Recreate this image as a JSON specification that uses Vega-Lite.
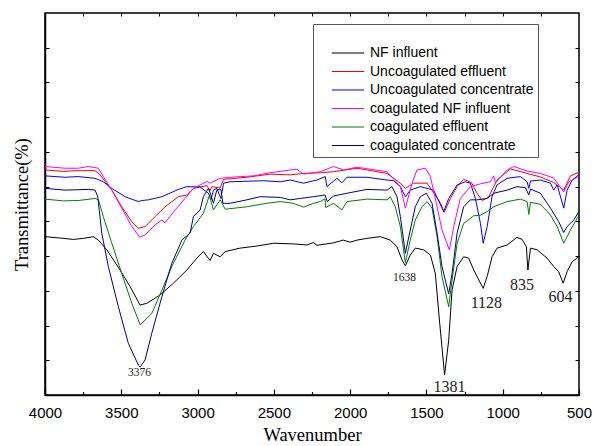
{
"$schema": "https://vega.github.io/schema/vega-lite/v6.json",
"width": 534, "height": 382, "autosize": "none",
"padding": {"left": 45, "top": 13, "right": 14, "bottom": 51},
"background": "white",
"config": {
 "view": {"stroke": "black", "strokeWidth": 1.5},
 "axis": {"domainColor": "black", "tickColor": "black", "labelColor": "black", "titleColor": "black", "grid": false, "domainWidth": 1.5,
  "labelFont": "Liberation Sans", "labelFontSize": 15, "titleFont": "Liberation Serif", "titleFontSize": 18.5, "titleFontWeight": "normal"},
 "legend": {"labelFont": "Liberation Sans", "labelFontSize": 14, "labelColor": "black"}
},
"datasets": {
 "spectra": [
{"s":"NF influent","w":4000,"t":45.6},{"s":"NF influent","w":3900,"t":45.2},{"s":"NF influent","w":3814,"t":44.8},{"s":"NF influent","w":3749,"t":45.1},{"s":"NF influent","w":3683,"t":45.6},{"s":"NF influent","w":3650,"t":44.6},{"s":"NF influent","w":3595,"t":41.8},{"s":"NF influent","w":3508,"t":36.0},{"s":"NF influent","w":3442,"t":31.2},{"s":"NF influent","w":3377,"t":25.9},{"s":"NF influent","w":3333,"t":26.4},{"s":"NF influent","w":3246,"t":28.8},{"s":"NF influent","w":3158,"t":32.2},{"s":"NF influent","w":3070,"t":36.0},{"s":"NF influent","w":3005,"t":39.4},{"s":"NF influent","w":2962,"t":41.3},{"s":"NF influent","w":2918,"t":38.7},{"s":"NF influent","w":2896,"t":40.8},{"s":"NF influent","w":2852,"t":39.8},{"s":"NF influent","w":2819,"t":41.3},{"s":"NF influent","w":2721,"t":42.3},{"s":"NF influent","w":2611,"t":42.9},{"s":"NF influent","w":2502,"t":43.7},{"s":"NF influent","w":2371,"t":43.5},{"s":"NF influent","w":2283,"t":43.2},{"s":"NF influent","w":2240,"t":43.9},{"s":"NF influent","w":2218,"t":43.1},{"s":"NF influent","w":2111,"t":43.8},{"s":"NF influent","w":2045,"t":44.6},{"s":"NF influent","w":2000,"t":44.0},{"s":"NF influent","w":1955,"t":44.6},{"s":"NF influent","w":1890,"t":45.1},{"s":"NF influent","w":1802,"t":45.6},{"s":"NF influent","w":1737,"t":44.6},{"s":"NF influent","w":1693,"t":42.7},{"s":"NF influent","w":1660,"t":38.9},{"s":"NF influent","w":1638,"t":37.2},{"s":"NF influent","w":1606,"t":40.3},{"s":"NF influent","w":1573,"t":42.3},{"s":"NF influent","w":1518,"t":41.8},{"s":"NF influent","w":1474,"t":40.3},{"s":"NF influent","w":1442,"t":35.1},{"s":"NF influent","w":1413,"t":20.7},{"s":"NF influent","w":1381,"t":5.8},{"s":"NF influent","w":1354,"t":15.8},{"s":"NF influent","w":1332,"t":30.2},{"s":"NF influent","w":1299,"t":37.0},{"s":"NF influent","w":1256,"t":39.8},{"s":"NF influent","w":1223,"t":39.4},{"s":"NF influent","w":1190,"t":36.0},{"s":"NF influent","w":1128,"t":30.7},{"s":"NF influent","w":1102,"t":34.1},{"s":"NF influent","w":1070,"t":39.8},{"s":"NF influent","w":1037,"t":42.3},{"s":"NF influent","w":971,"t":43.2},{"s":"NF influent","w":906,"t":45.4},{"s":"NF influent","w":873,"t":44.8},{"s":"NF influent","w":845,"t":42.7},{"s":"NF influent","w":835,"t":36.0},{"s":"NF influent","w":818,"t":42.3},{"s":"NF influent","w":774,"t":41.8},{"s":"NF influent","w":709,"t":39.4},{"s":"NF influent","w":666,"t":37.0},{"s":"NF influent","w":633,"t":35.5},{"s":"NF influent","w":604,"t":32.2},{"s":"NF influent","w":578,"t":35.5},{"s":"NF influent","w":545,"t":38.4},{"s":"NF influent","w":512,"t":39.4},{"s":"NF influent","w":500,"t":40.0},

{"s":"Uncoagulated effluent","w":4000,"t":64.8},{"s":"Uncoagulated effluent","w":3880,"t":64.4},{"s":"Uncoagulated effluent","w":3782,"t":64.6},{"s":"Uncoagulated effluent","w":3672,"t":64.6},{"s":"Uncoagulated effluent","w":3639,"t":63.4},{"s":"Uncoagulated effluent","w":3562,"t":59.0},{"s":"Uncoagulated effluent","w":3497,"t":54.2},{"s":"Uncoagulated effluent","w":3431,"t":49.9},{"s":"Uncoagulated effluent","w":3388,"t":48.0},{"s":"Uncoagulated effluent","w":3344,"t":48.5},{"s":"Uncoagulated effluent","w":3278,"t":51.4},{"s":"Uncoagulated effluent","w":3213,"t":54.2},{"s":"Uncoagulated effluent","w":3126,"t":57.1},{"s":"Uncoagulated effluent","w":3070,"t":57.6},{"s":"Uncoagulated effluent","w":3027,"t":59.5},{"s":"Uncoagulated effluent","w":2939,"t":60.3},{"s":"Uncoagulated effluent","w":2918,"t":58.8},{"s":"Uncoagulated effluent","w":2906,"t":60.0},{"s":"Uncoagulated effluent","w":2852,"t":59.6},{"s":"Uncoagulated effluent","w":2830,"t":62.1},{"s":"Uncoagulated effluent","w":2677,"t":62.7},{"s":"Uncoagulated effluent","w":2524,"t":63.6},{"s":"Uncoagulated effluent","w":2393,"t":63.4},{"s":"Uncoagulated effluent","w":2306,"t":63.8},{"s":"Uncoagulated effluent","w":2196,"t":64.0},{"s":"Uncoagulated effluent","w":2109,"t":64.3},{"s":"Uncoagulated effluent","w":1955,"t":65.3},{"s":"Uncoagulated effluent","w":1758,"t":63.8},{"s":"Uncoagulated effluent","w":1671,"t":61.0},{"s":"Uncoagulated effluent","w":1638,"t":59.5},{"s":"Uncoagulated effluent","w":1584,"t":61.0},{"s":"Uncoagulated effluent","w":1496,"t":61.0},{"s":"Uncoagulated effluent","w":1409,"t":55.4},{"s":"Uncoagulated effluent","w":1383,"t":52.6},{"s":"Uncoagulated effluent","w":1343,"t":56.6},{"s":"Uncoagulated effluent","w":1299,"t":60.0},{"s":"Uncoagulated effluent","w":1256,"t":62.1},{"s":"Uncoagulated effluent","w":1205,"t":61.2},{"s":"Uncoagulated effluent","w":1168,"t":58.1},{"s":"Uncoagulated effluent","w":1135,"t":56.0},{"s":"Uncoagulated effluent","w":1094,"t":56.9},{"s":"Uncoagulated effluent","w":1037,"t":61.9},{"s":"Uncoagulated effluent","w":950,"t":65.1},{"s":"Uncoagulated effluent","w":840,"t":63.8},{"s":"Uncoagulated effluent","w":753,"t":62.8},{"s":"Uncoagulated effluent","w":666,"t":61.2},{"s":"Uncoagulated effluent","w":600,"t":59.0},{"s":"Uncoagulated effluent","w":556,"t":63.1},{"s":"Uncoagulated effluent","w":501,"t":64.1},

{"s":"Uncoagulated concentrate","w":4000,"t":63.1},{"s":"Uncoagulated concentrate","w":3869,"t":62.7},{"s":"Uncoagulated concentrate","w":3782,"t":62.9},{"s":"Uncoagulated concentrate","w":3672,"t":62.4},{"s":"Uncoagulated concentrate","w":3618,"t":61.4},{"s":"Uncoagulated concentrate","w":3562,"t":59.5},{"s":"Uncoagulated concentrate","w":3475,"t":57.1},{"s":"Uncoagulated concentrate","w":3388,"t":55.7},{"s":"Uncoagulated concentrate","w":3366,"t":56.0},{"s":"Uncoagulated concentrate","w":3322,"t":56.2},{"s":"Uncoagulated concentrate","w":3234,"t":57.1},{"s":"Uncoagulated concentrate","w":3126,"t":59.2},{"s":"Uncoagulated concentrate","w":3070,"t":60.0},{"s":"Uncoagulated concentrate","w":2983,"t":59.9},{"s":"Uncoagulated concentrate","w":2929,"t":58.1},{"s":"Uncoagulated concentrate","w":2913,"t":56.2},{"s":"Uncoagulated concentrate","w":2896,"t":59.0},{"s":"Uncoagulated concentrate","w":2874,"t":59.5},{"s":"Uncoagulated concentrate","w":2847,"t":56.6},{"s":"Uncoagulated concentrate","w":2830,"t":61.0},{"s":"Uncoagulated concentrate","w":2786,"t":61.4},{"s":"Uncoagulated concentrate","w":2568,"t":61.7},{"s":"Uncoagulated concentrate","w":2458,"t":61.4},{"s":"Uncoagulated concentrate","w":2393,"t":61.9},{"s":"Uncoagulated concentrate","w":2306,"t":61.0},{"s":"Uncoagulated concentrate","w":2218,"t":61.9},{"s":"Uncoagulated concentrate","w":2163,"t":62.9},{"s":"Uncoagulated concentrate","w":2152,"t":60.0},{"s":"Uncoagulated concentrate","w":2087,"t":62.4},{"s":"Uncoagulated concentrate","w":2054,"t":61.1},{"s":"Uncoagulated concentrate","w":2021,"t":62.7},{"s":"Uncoagulated concentrate","w":1890,"t":62.7},{"s":"Uncoagulated concentrate","w":1758,"t":61.9},{"s":"Uncoagulated concentrate","w":1715,"t":61.7},{"s":"Uncoagulated concentrate","w":1671,"t":60.0},{"s":"Uncoagulated concentrate","w":1638,"t":57.1},{"s":"Uncoagulated concentrate","w":1606,"t":59.0},{"s":"Uncoagulated concentrate","w":1540,"t":60.0},{"s":"Uncoagulated concentrate","w":1453,"t":59.0},{"s":"Uncoagulated concentrate","w":1387,"t":52.8},{"s":"Uncoagulated concentrate","w":1354,"t":56.6},{"s":"Uncoagulated concentrate","w":1299,"t":60.5},{"s":"Uncoagulated concentrate","w":1245,"t":61.4},{"s":"Uncoagulated concentrate","w":1212,"t":61.0},{"s":"Uncoagulated concentrate","w":1179,"t":56.6},{"s":"Uncoagulated concentrate","w":1146,"t":49.4},{"s":"Uncoagulated concentrate","w":1128,"t":43.7},{"s":"Uncoagulated concentrate","w":1102,"t":48.5},{"s":"Uncoagulated concentrate","w":1070,"t":57.1},{"s":"Uncoagulated concentrate","w":1037,"t":60.5},{"s":"Uncoagulated concentrate","w":971,"t":62.4},{"s":"Uncoagulated concentrate","w":884,"t":62.9},{"s":"Uncoagulated concentrate","w":840,"t":61.4},{"s":"Uncoagulated concentrate","w":829,"t":59.5},{"s":"Uncoagulated concentrate","w":818,"t":61.6},{"s":"Uncoagulated concentrate","w":753,"t":61.9},{"s":"Uncoagulated concentrate","w":687,"t":61.0},{"s":"Uncoagulated concentrate","w":666,"t":59.0},{"s":"Uncoagulated concentrate","w":643,"t":60.5},{"s":"Uncoagulated concentrate","w":600,"t":53.8},{"s":"Uncoagulated concentrate","w":578,"t":59.0},{"s":"Uncoagulated concentrate","w":545,"t":61.9},{"s":"Uncoagulated concentrate","w":501,"t":63.4},

{"s":"coagulated NF influent","w":4000,"t":65.8},{"s":"coagulated NF influent","w":3869,"t":65.3},{"s":"coagulated NF influent","w":3782,"t":65.3},{"s":"coagulated NF influent","w":3716,"t":65.8},{"s":"coagulated NF influent","w":3650,"t":65.3},{"s":"coagulated NF influent","w":3618,"t":62.9},{"s":"coagulated NF influent","w":3562,"t":59.0},{"s":"coagulated NF influent","w":3497,"t":53.8},{"s":"coagulated NF influent","w":3431,"t":48.5},{"s":"coagulated NF influent","w":3380,"t":45.5},{"s":"coagulated NF influent","w":3344,"t":46.1},{"s":"coagulated NF influent","w":3278,"t":49.0},{"s":"coagulated NF influent","w":3234,"t":50.4},{"s":"coagulated NF influent","w":3213,"t":49.6},{"s":"coagulated NF influent","w":3147,"t":53.3},{"s":"coagulated NF influent","w":3082,"t":56.6},{"s":"coagulated NF influent","w":3027,"t":59.5},{"s":"coagulated NF influent","w":2939,"t":61.5},{"s":"coagulated NF influent","w":2918,"t":61.0},{"s":"coagulated NF influent","w":2852,"t":62.4},{"s":"coagulated NF influent","w":2786,"t":62.7},{"s":"coagulated NF influent","w":2634,"t":63.1},{"s":"coagulated NF influent","w":2524,"t":64.0},{"s":"coagulated NF influent","w":2393,"t":64.8},{"s":"coagulated NF influent","w":2349,"t":65.0},{"s":"coagulated NF influent","w":2306,"t":63.6},{"s":"coagulated NF influent","w":2196,"t":64.3},{"s":"coagulated NF influent","w":2109,"t":65.8},{"s":"coagulated NF influent","w":2043,"t":64.8},{"s":"coagulated NF influent","w":1955,"t":65.6},{"s":"coagulated NF influent","w":1758,"t":64.3},{"s":"coagulated NF influent","w":1671,"t":60.0},{"s":"coagulated NF influent","w":1638,"t":53.8},{"s":"coagulated NF influent","w":1594,"t":61.0},{"s":"coagulated NF influent","w":1562,"t":64.8},{"s":"coagulated NF influent","w":1507,"t":65.3},{"s":"coagulated NF influent","w":1474,"t":62.9},{"s":"coagulated NF influent","w":1430,"t":54.2},{"s":"coagulated NF influent","w":1398,"t":47.5},{"s":"coagulated NF influent","w":1350,"t":41.8},{"s":"coagulated NF influent","w":1321,"t":48.5},{"s":"coagulated NF influent","w":1278,"t":56.6},{"s":"coagulated NF influent","w":1212,"t":60.0},{"s":"coagulated NF influent","w":1146,"t":60.8},{"s":"coagulated NF influent","w":1081,"t":61.4},{"s":"coagulated NF influent","w":1059,"t":63.1},{"s":"coagulated NF influent","w":1048,"t":61.1},{"s":"coagulated NF influent","w":971,"t":64.8},{"s":"coagulated NF influent","w":928,"t":65.8},{"s":"coagulated NF influent","w":840,"t":64.5},{"s":"coagulated NF influent","w":753,"t":63.8},{"s":"coagulated NF influent","w":666,"t":62.5},{"s":"coagulated NF influent","w":600,"t":58.5},{"s":"coagulated NF influent","w":567,"t":61.4},{"s":"coagulated NF influent","w":501,"t":62.9},

{"s":"coagulated effluent","w":4000,"t":56.4},{"s":"coagulated effluent","w":3880,"t":55.9},{"s":"coagulated effluent","w":3782,"t":56.0},{"s":"coagulated effluent","w":3672,"t":56.6},{"s":"coagulated effluent","w":3650,"t":56.2},{"s":"coagulated effluent","w":3618,"t":51.4},{"s":"coagulated effluent","w":3562,"t":43.7},{"s":"coagulated effluent","w":3497,"t":35.0},{"s":"coagulated effluent","w":3431,"t":26.4},{"s":"coagulated effluent","w":3376,"t":20.2},{"s":"coagulated effluent","w":3300,"t":23.5},{"s":"coagulated effluent","w":3234,"t":30.2},{"s":"coagulated effluent","w":3169,"t":37.0},{"s":"coagulated effluent","w":3082,"t":44.6},{"s":"coagulated effluent","w":3027,"t":48.5},{"s":"coagulated effluent","w":2962,"t":52.3},{"s":"coagulated effluent","w":2922,"t":57.5},{"s":"coagulated effluent","w":2896,"t":53.3},{"s":"coagulated effluent","w":2852,"t":56.2},{"s":"coagulated effluent","w":2819,"t":53.5},{"s":"coagulated effluent","w":2677,"t":54.2},{"s":"coagulated effluent","w":2546,"t":55.2},{"s":"coagulated effluent","w":2458,"t":55.7},{"s":"coagulated effluent","w":2371,"t":55.2},{"s":"coagulated effluent","w":2306,"t":54.1},{"s":"coagulated effluent","w":2240,"t":55.2},{"s":"coagulated effluent","w":2196,"t":55.7},{"s":"coagulated effluent","w":2165,"t":56.5},{"s":"coagulated effluent","w":2160,"t":54.0},{"s":"coagulated effluent","w":2109,"t":55.2},{"s":"coagulated effluent","w":2054,"t":53.3},{"s":"coagulated effluent","w":2021,"t":55.7},{"s":"coagulated effluent","w":1890,"t":56.4},{"s":"coagulated effluent","w":1758,"t":56.2},{"s":"coagulated effluent","w":1737,"t":57.1},{"s":"coagulated effluent","w":1704,"t":54.2},{"s":"coagulated effluent","w":1671,"t":48.5},{"s":"coagulated effluent","w":1638,"t":38.1},{"s":"coagulated effluent","w":1606,"t":44.6},{"s":"coagulated effluent","w":1573,"t":50.4},{"s":"coagulated effluent","w":1529,"t":54.2},{"s":"coagulated effluent","w":1496,"t":55.7},{"s":"coagulated effluent","w":1463,"t":53.8},{"s":"coagulated effluent","w":1430,"t":45.6},{"s":"coagulated effluent","w":1398,"t":34.1},{"s":"coagulated effluent","w":1354,"t":25.4},{"s":"coagulated effluent","w":1332,"t":33.1},{"s":"coagulated effluent","w":1299,"t":43.7},{"s":"coagulated effluent","w":1256,"t":49.4},{"s":"coagulated effluent","w":1190,"t":51.6},{"s":"coagulated effluent","w":1146,"t":51.8},{"s":"coagulated effluent","w":1102,"t":52.8},{"s":"coagulated effluent","w":1059,"t":54.2},{"s":"coagulated effluent","w":971,"t":55.7},{"s":"coagulated effluent","w":884,"t":56.4},{"s":"coagulated effluent","w":840,"t":55.7},{"s":"coagulated effluent","w":829,"t":52.0},{"s":"coagulated effluent","w":818,"t":55.5},{"s":"coagulated effluent","w":753,"t":54.9},{"s":"coagulated effluent","w":687,"t":51.8},{"s":"coagulated effluent","w":643,"t":48.5},{"s":"coagulated effluent","w":600,"t":43.7},{"s":"coagulated effluent","w":556,"t":47.5},{"s":"coagulated effluent","w":512,"t":50.9},{"s":"coagulated effluent","w":500,"t":51.5},

{"s":"coagulated concentrate","w":4000,"t":59.5},{"s":"coagulated concentrate","w":3869,"t":59.0},{"s":"coagulated concentrate","w":3716,"t":59.2},{"s":"coagulated concentrate","w":3672,"t":59.0},{"s":"coagulated concentrate","w":3654,"t":57.1},{"s":"coagulated concentrate","w":3628,"t":46.6},{"s":"coagulated concentrate","w":3585,"t":37.0},{"s":"coagulated concentrate","w":3519,"t":25.4},{"s":"coagulated concentrate","w":3454,"t":14.9},{"s":"coagulated concentrate","w":3388,"t":8.6},{"s":"coagulated concentrate","w":3376,"t":8.1},{"s":"coagulated concentrate","w":3344,"t":10.1},{"s":"coagulated concentrate","w":3300,"t":17.8},{"s":"coagulated concentrate","w":3234,"t":28.3},{"s":"coagulated concentrate","w":3169,"t":37.9},{"s":"coagulated concentrate","w":3103,"t":44.6},{"s":"coagulated concentrate","w":3049,"t":46.6},{"s":"coagulated concentrate","w":3027,"t":51.4},{"s":"coagulated concentrate","w":2983,"t":53.3},{"s":"coagulated concentrate","w":2962,"t":57.1},{"s":"coagulated concentrate","w":2929,"t":59.5},{"s":"coagulated concentrate","w":2913,"t":57.6},{"s":"coagulated concentrate","w":2896,"t":55.2},{"s":"coagulated concentrate","w":2874,"t":59.0},{"s":"coagulated concentrate","w":2847,"t":59.2},{"s":"coagulated concentrate","w":2834,"t":55.2},{"s":"coagulated concentrate","w":2786,"t":55.2},{"s":"coagulated concentrate","w":2677,"t":56.2},{"s":"coagulated concentrate","w":2590,"t":57.1},{"s":"coagulated concentrate","w":2458,"t":56.9},{"s":"coagulated concentrate","w":2393,"t":56.2},{"s":"coagulated concentrate","w":2327,"t":56.6},{"s":"coagulated concentrate","w":2240,"t":57.1},{"s":"coagulated concentrate","w":2165,"t":57.6},{"s":"coagulated concentrate","w":2150,"t":55.7},{"s":"coagulated concentrate","w":2109,"t":57.3},{"s":"coagulated concentrate","w":2021,"t":58.1},{"s":"coagulated concentrate","w":1890,"t":59.2},{"s":"coagulated concentrate","w":1758,"t":59.0},{"s":"coagulated concentrate","w":1726,"t":60.0},{"s":"coagulated concentrate","w":1693,"t":57.1},{"s":"coagulated concentrate","w":1671,"t":51.4},{"s":"coagulated concentrate","w":1638,"t":40.8},{"s":"coagulated concentrate","w":1606,"t":47.5},{"s":"coagulated concentrate","w":1573,"t":54.2},{"s":"coagulated concentrate","w":1540,"t":57.1},{"s":"coagulated concentrate","w":1501,"t":58.1},{"s":"coagulated concentrate","w":1463,"t":55.2},{"s":"coagulated concentrate","w":1430,"t":46.6},{"s":"coagulated concentrate","w":1398,"t":37.0},{"s":"coagulated concentrate","w":1354,"t":29.1},{"s":"coagulated concentrate","w":1332,"t":35.0},{"s":"coagulated concentrate","w":1299,"t":46.6},{"s":"coagulated concentrate","w":1256,"t":54.2},{"s":"coagulated concentrate","w":1212,"t":56.2},{"s":"coagulated concentrate","w":1168,"t":56.2},{"s":"coagulated concentrate","w":1102,"t":56.6},{"s":"coagulated concentrate","w":1059,"t":58.1},{"s":"coagulated concentrate","w":971,"t":59.0},{"s":"coagulated concentrate","w":906,"t":60.0},{"s":"coagulated concentrate","w":851,"t":59.7},{"s":"coagulated concentrate","w":829,"t":57.6},{"s":"coagulated concentrate","w":818,"t":59.3},{"s":"coagulated concentrate","w":753,"t":58.1},{"s":"coagulated concentrate","w":687,"t":53.8},{"s":"coagulated concentrate","w":633,"t":49.9},{"s":"coagulated concentrate","w":600,"t":46.8},{"s":"coagulated concentrate","w":578,"t":48.5},{"s":"coagulated concentrate","w":534,"t":50.4},{"s":"coagulated concentrate","w":501,"t":52.8}
 ],
 "smallLabels": [{"w":3381,"t":6.2,"lab":"3376"},{"w":1643,"t":33.6,"lab":"1638"}],
 "bigLabels": [{"w":1348,"t":2.4,"lab":"1381"},{"w":1107,"t":26.4,"lab":"1128"},{"w":873,"t":31.7,"lab":"835"},{"w":622,"t":28.1,"lab":"604"}]
},
"layer": [
 {
  "data": {"name": "spectra"},
  "mark": {"type": "line", "strokeWidth": 1},
  "encoding": {
   "x": {"field": "w", "type": "quantitative",
     "scale": {"domain": [500, 4000], "reverse": true, "nice": false, "zero": false},
     "axis": {"orient": "bottom", "title": "Wavenumber", "format": "d",
       "values": [4000,3500,3000,2500,2000,1500,1000,500],
       "tickSize": -6, "tickWidth": 1.2, "labelPadding": 16, "titlePadding": 5, "labelFlush": false, "labelOverlap": false, "labelBound": false}},
   "y": {"field": "t", "type": "quantitative",
     "scale": {"domain": [0, 110], "nice": false, "zero": false},
     "axis": {"orient": "left", "title": "Transmittance(%)", "labels": false,
       "values": [10,20,30,40,50,60,70,80,90,100], "tickSize": -4, "titlePadding": 13}},
   "color": {"field": "s", "type": "nominal",
     "scale": {"domain": ["NF influent","Uncoagulated effluent","Uncoagulated concentrate","coagulated NF influent","coagulated effluent","coagulated concentrate"],
               "range": ["#000000","#ff0000","#0000ff","#ff00ff","#008000","#000080"]},
     "legend": {"orient": "none", "legendX": 268, "legendY": 11, "title": " ", "titleFontSize": 14, "titlePadding": 4,
       "padding": 4, "strokeColor": "#555555", "fillColor": "white", "symbolType": "stroke", "symbolSize": 1050,
       "symbolStrokeWidth": 1.2, "symbolOffset": 14, "labelOffset": 5, "clipHeight": 14, "rowPadding": 4.5, "labelLimit": 300}}
  }
 },
 {
  "data": {"name": "smallLabels"},
  "mark": {"type": "text", "font": "Liberation Serif", "fontSize": 11.5, "color": "#222"},
  "encoding": {
   "x": {"field": "w", "type": "quantitative",
     "axis": {"orient": "top", "title": null, "labels": false, "domain": false,
       "values": [3750,3500,3250,3000,2750,2500,2250,2000,1750,1500,1250,1000,750],
       "tickSize": -3}},
   "y": {"field": "t", "type": "quantitative",
     "axis": {"orient": "right", "title": null, "labels": false, "domain": false,
       "values": [10,20,30,40,50,60,70,80,90,100], "tickSize": -4}},
   "text": {"field": "lab"}
  }
 },
 {
  "data": {"name": "bigLabels"},
  "mark": {"type": "text", "font": "Liberation Serif", "fontSize": 16, "color": "#222"},
  "encoding": {
   "x": {"field": "w", "type": "quantitative",
     "axis": {"orient": "bottom", "title": null, "labels": false, "domain": false,
       "values": [3750,3250,2750,2250,1750,1250,750], "tickSize": -3.5, "tickWidth": 1.2}},
   "y": {"field": "t", "type": "quantitative", "axis": null},
   "text": {"field": "lab"}
  }
 }
],
"resolve": {"axis": {"x": "independent", "y": "independent"}}
}
